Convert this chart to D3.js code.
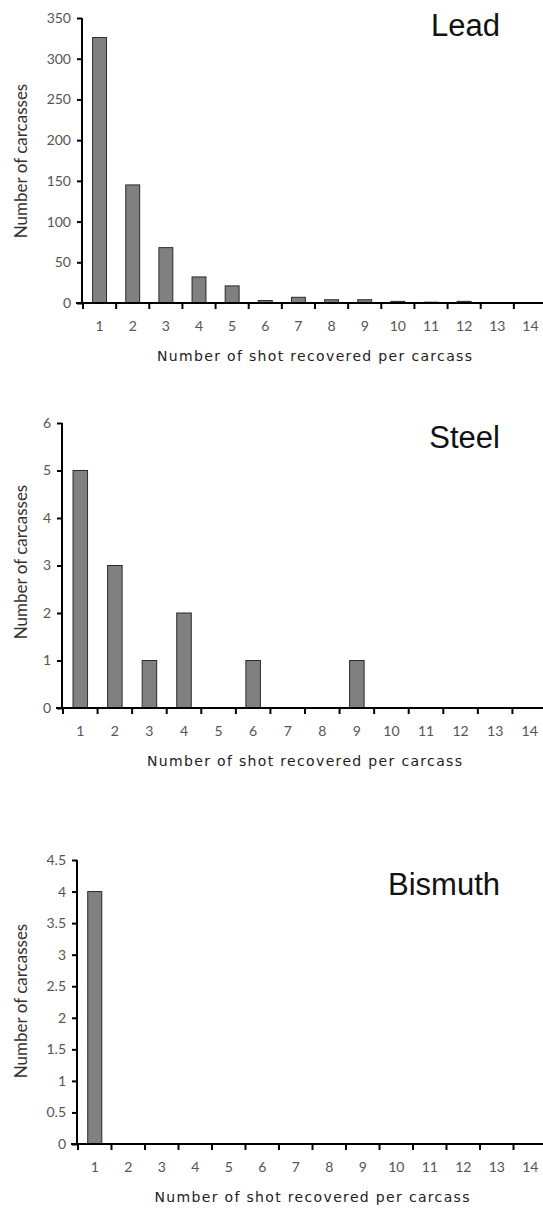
<!DOCTYPE html>
<html>
<head>
<meta charset="utf-8">
<script src="https://cdn.jsdelivr.net/npm/d3@7"></script>
<style>
  body { margin: 0; background: #fff; }
  svg { display: block; }
</style>
</head>
<body>
<div class="canva"></div>
<script>
// shot counts per carcass (x categories)
const shots = [1, 2, 3, 4, 5, 6, 7, 8, 9, 10, 11, 12, 13, 14];

// number of carcasses per shot count
const leadValues = [326, 145, 68, 32, 21, 3, 7, 4, 4, 2, 1, 2, 0, 0];
const steelValues = [5, 3, 1, 2, 0, 1, 0, 0, 1, 0, 0, 0, 0, 0];
const bismuthValues = [4, 0, 0, 0, 0, 0, 0, 0, 0, 0, 0, 0, 0, 0];

// y tick labels
const leadTicks = [0, 50, 100, 150, 200, 250, 300, 350];
const steelTicks = [0, 1, 2, 3, 4, 5, 6];
const bismuthTicks = [0, 0.5, 1, 1.5, 2, 2.5, 3, 3.5, 4, 4.5];

const xTitle = 'Number of shot recovered per carcass';
const yTitle = 'Number of carcasses';

const svg = d3.select('.canva').append('svg')
  .attr('width', 543)
  .attr('height', 1209);

//panel layouts
const panels = [
  { name: 'Lead', values: leadValues, ticks: leadTicks, left: 82, top: 18, bottom: 303, titleY: 36, xTitleY: 361, yTitleY: 161 },
  { name: 'Steel', values: steelValues, ticks: steelTicks, left: 62, top: 423, bottom: 708, titleY: 448, xTitleY: 766, yTitleY: 562 },
  { name: 'Bismuth', values: bismuthValues, ticks: bismuthTicks, left: 77, top: 860, bottom: 1144, titleY: 895, xTitleY: 1202, yTitleY: 1001 }
];

panels.forEach(p => {
  const g = svg.append('g');
  const right = 547;

  const x = d3.scaleBand()
    .domain(shots)
    .range([p.left + 1, right])
    .paddingInner(0.58)
    .paddingOuter(0.29);

  const y = d3.scaleLinear()
    .domain([0, d3.max(p.ticks)])
    .range([p.bottom, p.top]);

  //bars
  g.selectAll('rect')
    .data(p.values)
    .enter().append('rect')
    .attr('x', (d, i) => x(shots[i]))
    .attr('y', d => y(d))
    .attr('width', x.bandwidth())
    .attr('height', d => p.bottom - y(d))
    .attr('fill', '#808080')
    .attr('stroke', '#2a2a2a')
    .attr('stroke-width', 1);

  //y axis
  const yAxis = d3.axisLeft(y)
    .tickValues(p.ticks)
    .tickFormat(d => String(d))
    .tickSize(5)
    .tickPadding(6);
  const yG = g.append('g')
    .attr('transform', `translate(${p.left}, 0)`)
    .call(yAxis);
  yG.select('.domain').remove();
  yG.selectAll('.tick line').attr('stroke', '#000').attr('stroke-width', 2);
  yG.selectAll('.tick text')
    .attr('fill', '#555')
    .style('font-family', 'Lato, "Open Sans", sans-serif')
    .style('font-size', '14px');
  g.append('line')
    .attr('x1', p.left).attr('x2', p.left)
    .attr('y1', p.top).attr('y2', p.bottom)
    .attr('stroke', '#000').attr('stroke-width', 2);

  //x axis: labels at band centers, ticks at band boundaries
  const xAxis = d3.axisBottom(x).tickSize(0).tickPadding(18);
  const xG = g.append('g')
    .attr('transform', `translate(0, ${p.bottom})`)
    .call(xAxis);
  xG.select('.domain').remove();
  xG.selectAll('.tick text')
    .attr('fill', '#555')
    .style('font-family', 'Lato, "Open Sans", sans-serif')
    .style('font-size', '14px');
  g.append('line')
    .attr('x1', p.left - 6).attr('x2', right)
    .attr('y1', p.bottom).attr('y2', p.bottom)
    .attr('stroke', '#000').attr('stroke-width', 2);
  g.selectAll('.bound')
    .data(shots)
    .enter().append('line')
    .attr('class', 'bound')
    .attr('x1', d => x(d) - x.step() * x.paddingOuter())
    .attr('x2', d => x(d) - x.step() * x.paddingOuter())
    .attr('y1', p.bottom)
    .attr('y2', p.bottom + 6)
    .attr('stroke', '#000').attr('stroke-width', 2);

  //titles
  g.append('text')
    .attr('x', 500).attr('y', p.titleY)
    .attr('text-anchor', 'end')
    .style('font-family', '"Liberation Sans", Arial, sans-serif')
    .style('font-size', '31px')
    .attr('fill', '#111')
    .text(p.name);

  g.append('text')
    .attr('x', (p.left + right) / 2).attr('y', p.xTitleY)
    .attr('text-anchor', 'middle')
    .attr('textLength', 315)
    .attr('lengthAdjust', 'spacing')
    .style('font-family', '"DejaVu Sans", sans-serif')
    .style('font-size', '14px')
    .attr('fill', '#222')
    .text(xTitle);

  g.append('text')
    .attr('transform', `translate(27, ${p.yTitleY}) rotate(-90)`)
    .attr('text-anchor', 'middle')
    .style('font-family', 'Lato, "Open Sans", sans-serif')
    .style('font-size', '17px')
    .attr('fill', '#333')
    .text(yTitle);
});
</script>
</body>
</html>
